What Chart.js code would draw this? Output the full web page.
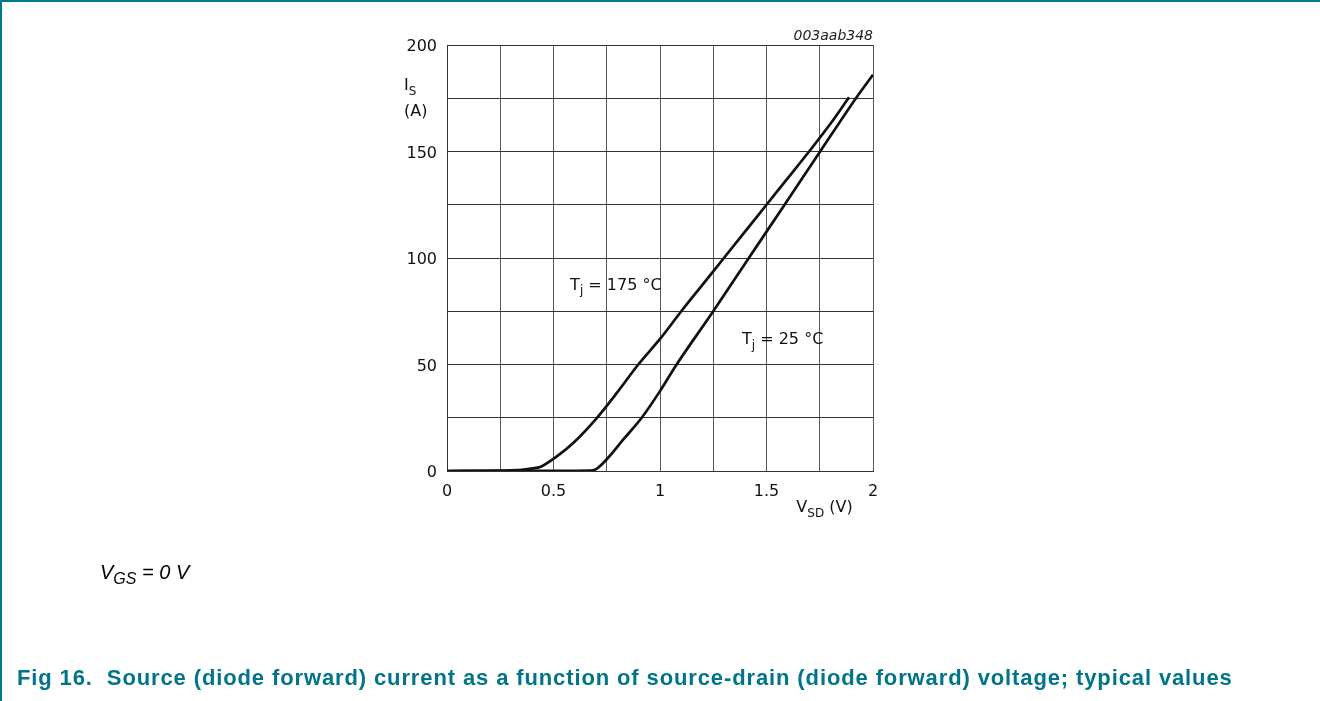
<!DOCTYPE html>
<html>
<head>
<meta charset="utf-8">
<script src="https://cdn.jsdelivr.net/npm/chart.js@4"></script>
<style>
  html, body { margin: 0; padding: 0; background: #fff; }
  body { width: 1320px; height: 701px; position: relative; overflow: hidden; }
  .frame { position: absolute; left: 0; top: 0; width: 1320px; height: 701px;
           border-top: 2px solid #00788a; border-left: 2px solid #00788a; box-sizing: border-box; }
  #chart { position: absolute; left: 0; top: 0; }
  .cond { position: absolute; left: 100px; top: 561px; font: italic 20px "Liberation Sans", Arial, sans-serif; color: #000; }
  .cond sub { font-size: 16px; vertical-align: -5px; }
  .caption { position: absolute; left: 17px; top: 665px; font: bold 22px "Liberation Sans", Arial, sans-serif;
             letter-spacing: 0.88px; color: #00758a; white-space: nowrap; }
</style>
</head>
<body>
<div class="frame"></div>
<canvas id="chart" width="1320" height="701"></canvas>
<div class="cond">V<sub>GS</sub> = 0 V</div>
<div class="caption">Fig 16.&nbsp; Source (diode forward) current as a function of source-drain (diode forward) voltage; typical values</div>
<script>
// V_SD in volts, I_S in amps
const vsdHot = [0, 0.25, 0.35, 0.40, 0.4375, 0.508, 0.594, 0.70, 0.80, 0.898, 1.0, 1.1, 1.2, 1.3, 1.4, 1.5, 1.6, 1.7, 1.8, 1.8875];
const isHot  = [0, 0.2, 0.5, 1.2, 1.9, 6.3, 13.3, 24.5, 37.0, 50.0, 62.0, 75.0, 87.5, 100.0, 112.5, 125.0, 137.5, 150.0, 163.0, 175.5];

const vsdCold = [0, 0.5, 0.672, 0.70, 0.75, 0.828, 0.914, 1.0, 1.078, 1.25, 1.417, 1.585, 1.752, 1.92, 2.0];
const isCold  = [0, 0.1, 0.2, 0.9, 5.5, 14.8, 25.0, 37.5, 50.0, 75.0, 100.0, 125.0, 150.0, 175.0, 186.0];

const xTicks = [0, 0.5, 1, 1.5, 2];
const yTicks = [0, 50, 100, 150, 200];

const toPoints = (xs, ys) => xs.map((x, i) => ({ x: x, y: ys[i] }));

const FONT = '"DejaVu Sans", sans-serif';

// draws "main" + subscript + rest, left aligned, vertically centred on y
function drawSub(ctx, main, sub, rest, x, y, size) {
    ctx.save();
    ctx.fillStyle = '#111';
    ctx.textBaseline = 'middle';
    ctx.textAlign = 'left';
    ctx.font = size + 'px ' + FONT;
    ctx.fillText(main, x, y);
    x += ctx.measureText(main).width;
    ctx.font = Math.round(size * 0.72) + 'px ' + FONT;
    ctx.fillText(sub, x, y + size * 0.35);
    x += ctx.measureText(sub).width;
    ctx.font = size + 'px ' + FONT;
    ctx.fillText(rest, x, y);
    ctx.restore();
}

const labelsPlugin = {
    id: 'labels',
    afterDraw(chart) {
        const ctx = chart.ctx;
        const xs = chart.scales.x, ys = chart.scales.y;
        const area = chart.chartArea;
        ctx.save();
        ctx.fillStyle = '#222';
        ctx.font = 'oblique 14px ' + FONT;
        ctx.textAlign = 'right';
        ctx.textBaseline = 'middle';
        ctx.fillText('003aab348', area.right, area.top - 9);
        ctx.restore();

        drawSub(ctx, 'I', 'S', '', area.left - 43, 86, 16);
        drawSub(ctx, '(A)', '', '', area.left - 43, 112, 16);
        drawSub(ctx, 'V', 'SD', ' (V)', xs.getPixelForValue(1.64), area.bottom + 37, 16);
        drawSub(ctx, 'T', 'j', ' = 175 °C', xs.getPixelForValue(0.578), ys.getPixelForValue(87), 16);
        drawSub(ctx, 'T', 'j', ' = 25 °C', xs.getPixelForValue(1.385), ys.getPixelForValue(61.5), 16);
    }
};

const lineStyle = {
    borderColor: '#111',
    borderWidth: 2.7,
    pointRadius: 0,
    fill: false,
    cubicInterpolationMode: 'monotone'
};

new Chart(document.getElementById('chart'), {
    type: 'line',
    data: {
        datasets: [
            Object.assign({ label: 'Tj = 175 °C', data: toPoints(vsdHot, isHot) }, lineStyle),
            Object.assign({ label: 'Tj = 25 °C', data: toPoints(vsdCold, isCold) }, lineStyle)
        ]
    },
    options: {
        responsive: false,
        devicePixelRatio: 1,
        animation: false,
        layout: { padding: { left: 447 - 60, right: 447, top: 45, bottom: 701 - 471 - 30 } },
        plugins: { legend: { display: false }, tooltip: { enabled: false } },
        scales: {
            x: {
                type: 'linear', min: 0, max: 2,
                afterFit: s => { s.height = 30; },
                ticks: {
                    stepSize: 0.25, padding: 11, maxRotation: 0, autoSkip: false,
                    color: '#111', font: { family: FONT, size: 16 },
                    callback: v => xTicks.includes(v) ? String(v) : ''
                },
                grid: { color: '#5a5a5a', lineWidth: 1, drawTicks: false },
                border: { color: '#333', width: 1 }
            },
            y: {
                type: 'linear', min: 0, max: 200,
                afterFit: s => { s.width = 60; },
                ticks: {
                    stepSize: 25, padding: 10, autoSkip: false, labelOffset: 2,
                    color: '#111', font: { family: FONT, size: 16 },
                    callback: v => yTicks.includes(v) ? String(v) : ''
                },
                grid: { color: '#333', lineWidth: 1, drawTicks: false },
                border: { color: '#333', width: 1 }
            }
        }
    },
    plugins: [labelsPlugin]
});
</script>
</body>
</html>
